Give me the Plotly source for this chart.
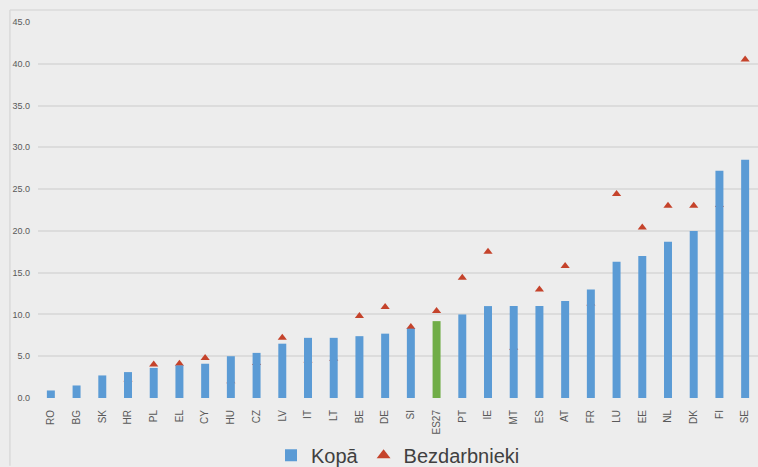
import plotly.graph_objects as go

countries = ["RO", "BG", "SK", "HR", "PL", "EL", "CY", "HU", "CZ", "LV", "IT", "LT", "BE", "DE",
             "SI", "ES27", "PT", "IE", "MT", "ES", "AT", "FR", "LU", "EE", "NL", "DK", "FI", "SE"]
kopa = [0.9, 1.5, 2.7, 3.1, 3.6, 3.9, 4.1, 5.0, 5.4, 6.5, 7.2, 7.2, 7.4, 7.7,
        8.3, 9.2, 10.0, 11.0, 11.0, 11.0, 11.6, 13.0, 16.3, 17.0, 18.7, 20.0, 27.2, 28.5]
bezdarbnieki = [None, None, None, 2.2, 4.0, 4.1, 4.8, 2.0, 4.2, 7.2, 4.5, 4.7, 9.8, 10.9,
                8.5, 10.4, 14.4, 17.5, 6.0, 13.0, 15.8, 11.3, 24.4, 20.4, 23.0, 23.0, 23.1, 40.5]
y_ticks = [0, 5, 10, 15, 20, 25, 30, 35, 40, 45]

bar_colors = ["#70ad47" if c == "ES27" else "#5b9bd5" for c in countries]

fig = go.Figure()
fig.add_trace(go.Bar(
    x=countries, y=kopa, name="Kopā", marker=dict(color=bar_colors, line=dict(width=0)),
    yaxis="y2", showlegend=True,
))
fig.add_trace(go.Scatter(
    x=countries, y=bezdarbnieki, name="Bezdarbnieki", mode="markers",
    marker=dict(symbol="triangle-up", size=8, color="#c5432b"),
))

fig.update_layout(
    width=758, height=467,
    margin=dict(l=38, r=0, t=22, b=69, autoexpand=False),
    paper_bgcolor="#ededed", plot_bgcolor="#ededed",
    bargap=0.69,
    font=dict(family="Liberation Sans, Arial, sans-serif", color="#595959"),
    xaxis=dict(type="category", tickangle=-90, tickfont=dict(size=10, color="#595959"),
               showgrid=False, showline=False, ticks="outside", ticklen=7,
               tickcolor="rgba(0,0,0,0)", range=[-0.5, 27.5], automargin=False),
    yaxis=dict(range=[0, 45], tickvals=y_ticks, tickformat=".1f",
               tickfont=dict(size=9, color="#595959"), gridcolor="#dcdcdc", gridwidth=2,
               zeroline=False, showline=False, ticks="", automargin=False,
               ticklabelstandoff=7),
    yaxis2=dict(range=[0, 45], overlaying="y", showgrid=False, showticklabels=False,
                zeroline=False, showline=False),
    legend=dict(orientation="h", x=0.5, xanchor="center", y=-0.152, yanchor="middle",
                font=dict(size=20, color="#404040"), bgcolor="rgba(0,0,0,0)",
                itemsizing="constant"),
    shapes=[
        dict(type="line", xref="paper", yref="paper", x0=-0.039, x1=1.0, y0=1.032, y1=1.032,
             line=dict(color="#dadada", width=1.5)),
        dict(type="line", xref="paper", yref="paper", x0=-0.039, x1=-0.039, y0=-0.18, y1=1.032,
             line=dict(color="#dadada", width=1.5)),
    ],
)

fig.write_html(
    "out.html",
    config={"displayModeBar": False},
    post_script="document.body.style.margin='0';document.body.style.overflow='hidden';",
)
